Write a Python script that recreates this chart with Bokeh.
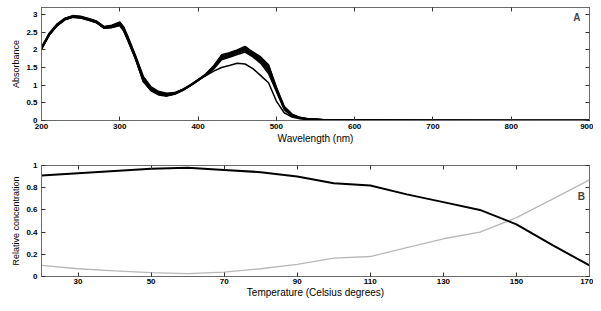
from bokeh.plotting import figure
from bokeh.layouts import column
from bokeh.models import LinearAxis, FixedTicker, Range1d, Label
from bokeh.embed import file_html
from bokeh.resources import INLINE

# ---------------- Data: panel A (absorption spectra) ----------------
wavelength = [200, 210, 220, 230, 240, 250, 260, 270, 280, 290, 300, 305, 310, 320, 330,
              340, 350, 360, 370, 380, 390, 400, 410, 420, 430, 440, 450, 460, 470, 480,
              490, 500, 510, 520, 530, 540, 560, 580, 600, 700, 800, 900]

spec_1 = [2.08, 2.48, 2.74, 2.90, 2.97, 2.95, 2.89, 2.82, 2.66, 2.70, 2.79, 2.65, 2.40, 1.85, 1.25,
          0.95, 0.82, 0.77, 0.79, 0.88, 1.01, 1.16, 1.32, 1.55, 1.86, 1.92, 2.00, 2.10, 1.94, 1.80,
          1.58, 0.95, 0.40, 0.18, 0.09, 0.05, 0.02, 0.01, 0.01, 0.005, 0.0, 0.0]
spec_2 = [2.06, 2.46, 2.72, 2.89, 2.96, 2.94, 2.88, 2.81, 2.65, 2.69, 2.77, 2.62, 2.36, 1.82, 1.22,
          0.92, 0.80, 0.75, 0.78, 0.87, 1.00, 1.15, 1.31, 1.53, 1.83, 1.90, 1.98, 2.07, 1.92, 1.77,
          1.55, 0.92, 0.38, 0.17, 0.08, 0.05, 0.02, 0.01, 0.01, 0.005, 0.0, 0.0]
spec_3 = [2.05, 2.45, 2.71, 2.88, 2.95, 2.93, 2.87, 2.80, 2.64, 2.68, 2.76, 2.60, 2.34, 1.80, 1.18,
          0.90, 0.78, 0.73, 0.77, 0.86, 0.99, 1.14, 1.30, 1.51, 1.80, 1.87, 1.96, 2.04, 1.89, 1.74,
          1.50, 0.90, 0.36, 0.16, 0.08, 0.04, 0.02, 0.01, 0.01, 0.0, 0.0, 0.0]
spec_4 = [2.04, 2.44, 2.70, 2.87, 2.94, 2.92, 2.86, 2.79, 2.63, 2.67, 2.74, 2.58, 2.32, 1.78, 1.15,
          0.88, 0.76, 0.72, 0.76, 0.86, 0.99, 1.14, 1.30, 1.50, 1.78, 1.85, 1.93, 2.01, 1.86, 1.70,
          1.45, 0.88, 0.35, 0.15, 0.07, 0.04, 0.02, 0.01, 0.01, 0.0, 0.0, 0.0]
spec_5 = [2.03, 2.43, 2.69, 2.86, 2.93, 2.91, 2.85, 2.78, 2.62, 2.65, 2.72, 2.56, 2.30, 1.76, 1.12,
          0.86, 0.74, 0.71, 0.75, 0.85, 0.98, 1.13, 1.29, 1.48, 1.75, 1.82, 1.90, 1.98, 1.83, 1.66,
          1.40, 0.85, 0.33, 0.14, 0.07, 0.04, 0.02, 0.01, 0.01, 0.0, 0.0, 0.0]
spec_6 = [2.02, 2.42, 2.68, 2.85, 2.92, 2.90, 2.84, 2.77, 2.61, 2.63, 2.69, 2.53, 2.28, 1.74, 1.10,
          0.84, 0.72, 0.69, 0.74, 0.85, 0.98, 1.13, 1.28, 1.46, 1.72, 1.79, 1.87, 1.94, 1.80, 1.62,
          1.33, 0.82, 0.31, 0.13, 0.06, 0.03, 0.02, 0.01, 0.01, 0.0, 0.0, 0.0]
spec_7 = [2.03, 2.43, 2.69, 2.86, 2.93, 2.91, 2.85, 2.78, 2.62, 2.64, 2.70, 2.55, 2.30, 1.76, 1.12,
          0.85, 0.74, 0.71, 0.76, 0.87, 1.00, 1.15, 1.27, 1.40, 1.50, 1.56, 1.62, 1.60, 1.47, 1.27,
          1.07, 0.55, 0.22, 0.10, 0.05, 0.03, 0.02, 0.01, 0.01, 0.0, 0.0, 0.0]
spectra = [spec_1, spec_2, spec_3, spec_4, spec_5, spec_6, spec_7]

a_xticks = [200, 300, 400, 500, 600, 700, 800, 900]
a_yticks = [0, 0.5, 1, 1.5, 2, 2.5, 3]

# ---------------- Data: panel B (relative concentrations) ----------------
temperature = [20, 30, 40, 50, 60, 70, 80, 90, 100, 110, 120, 130, 140, 150, 160, 170]
conc_black = [0.91, 0.93, 0.95, 0.97, 0.98, 0.96, 0.94, 0.90, 0.84, 0.82, 0.74, 0.67, 0.60, 0.47, 0.28, 0.10]
conc_gray = [0.10, 0.07, 0.05, 0.035, 0.025, 0.04, 0.07, 0.11, 0.165, 0.18, 0.26, 0.34, 0.40, 0.53, 0.70, 0.87]

b_xticks = [30, 50, 70, 90, 110, 130, 150, 170]
b_yticks = [0, 0.2, 0.4, 0.6, 0.8, 1]

FONT = "Liberation Sans"
FRAME = "#6a6a6a"


def mirror_axis(ticks):
    return LinearAxis(ticker=FixedTicker(ticks=ticks),
                      major_label_overrides={t: "" for t in ticks},
                      major_label_standoff=0, major_tick_in=4, major_tick_out=0,
                      minor_tick_line_color=None, axis_line_color=FRAME,
                      major_tick_line_color="#333333")


def style(p, xticks, yticks, overrides):
    for ax in p.xaxis + p.yaxis:
        ax.major_tick_in = 4
        ax.major_tick_out = 0
        ax.minor_tick_line_color = None
        ax.axis_line_color = FRAME
        ax.major_tick_line_color = "#333333"
        ax.major_label_text_font = FONT
        ax.major_label_text_font_size = "8px"
        ax.major_label_text_font_style = "bold"
        ax.major_label_text_color = "black"
        ax.axis_label_text_font = FONT
        ax.axis_label_text_font_style = "normal"
        ax.axis_label_text_color = "black"
    p.xaxis.ticker = FixedTicker(ticks=xticks)
    p.yaxis.ticker = FixedTicker(ticks=yticks)
    p.yaxis.major_label_overrides = overrides
    p.xaxis.axis_label_text_font_size = "10px"
    p.yaxis.axis_label_text_font_size = "9px"
    p.xaxis.major_label_standoff = 3
    p.xaxis.axis_label_standoff = 1
    p.yaxis.major_label_standoff = 4
    p.yaxis.axis_label_standoff = 2
    p.add_layout(mirror_axis(xticks), "above")
    p.add_layout(mirror_axis(yticks), "right")
    p.xgrid.grid_line_color = None
    p.ygrid.grid_line_color = None
    p.outline_line_color = FRAME
    p.background_fill_color = "white"
    p.border_fill_color = "white"


# ---------------- Panel A ----------------
pA = figure(width=593, height=150, output_backend="svg", toolbar_location=None,
            x_range=Range1d(200, 900), y_range=Range1d(0, 3.2),
            min_border_left=41, min_border_right=4, min_border_top=7, min_border_bottom=30)
for s in spectra:
    pA.line(wavelength, s, line_color="black", line_width=1.5)
pA.xaxis.axis_label = "Wavelength (nm)"
pA.yaxis.axis_label = "Absorbance"
style(pA, a_xticks, a_yticks, {0: "0", 1: "1", 2: "2", 3: "3"})
pA.add_layout(Label(x=884, y=2.92, text="A", text_font=FONT, text_font_size="10px",
                    text_font_style="bold", text_align="center", text_baseline="middle"))

# ---------------- Panel B ----------------
pB = figure(width=593, height=150, output_backend="svg", toolbar_location=None,
            x_range=Range1d(20, 170), y_range=Range1d(0, 1),
            min_border_left=41, min_border_right=4, min_border_top=15, min_border_bottom=22)
pB.line(temperature, conc_gray, line_color="#b8b8b8", line_width=1.3)
pB.line(temperature, conc_black, line_color="black", line_width=2)
pB.xaxis.axis_label = "Temperature (Celsius degrees)"
pB.yaxis.axis_label = "Relative concentration"
style(pB, b_xticks, b_yticks, {0: "0", 1: "1"})
pB.xaxis.major_label_standoff = 2
pB.xaxis.axis_label_standoff = 0
pB.add_layout(Label(x=167.8, y=0.72, text="B", text_font=FONT, text_font_size="10px",
                    text_font_style="bold", text_align="center", text_baseline="middle"))

layout = column(pA, pB, spacing=0)
open("out.html", "w").write(file_html(layout, INLINE))
